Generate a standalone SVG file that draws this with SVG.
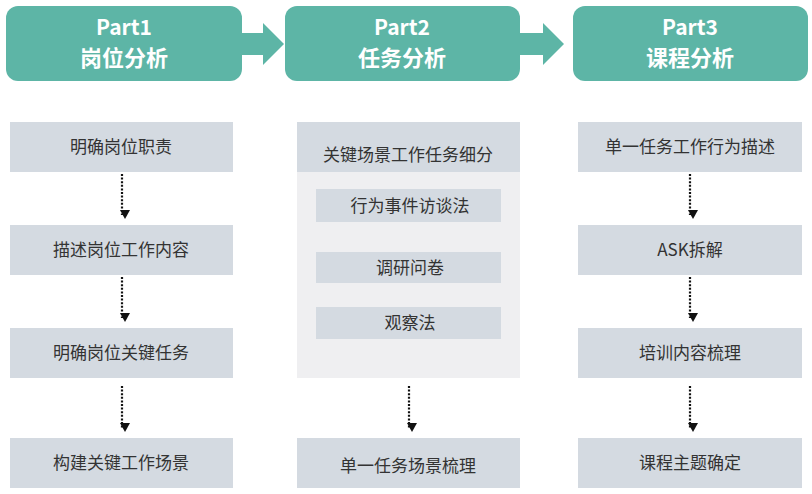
<svg xmlns="http://www.w3.org/2000/svg" width="812" height="494" viewBox="0 0 812 494">
<defs>
<style>
.hdr{fill:#5DB5A6}
.box{fill:#D4DAE1}
.cont{fill:#EFEFF1}
.ht{font-family:"Noto Sans CJK SC","Noto Sans",sans-serif;font-size:21px;font-weight:bold;fill:#ffffff;text-anchor:middle}
.hc{font-size:22px}
.bt{font-family:"Noto Sans CJK SC","Noto Sans",sans-serif;font-size:17px;fill:#333333;text-anchor:middle;dominant-baseline:central}
.dl{stroke:#111;stroke-width:2.2;stroke-dasharray:2 1.6;fill:none}
</style>
<marker id="ah" markerWidth="10" markerHeight="10" refX="5" refY="8" orient="auto" markerUnits="userSpaceOnUse" viewBox="0 0 10 10">
<path d="M0,0 L10,0 L5,9 Z" fill="#111" transform="rotate(-90 5 5)"/>
</marker>
</defs>
<rect width="812" height="494" fill="#ffffff"/>

<g id="part1">
<rect class="hdr" x="6" y="6" width="236" height="75" rx="12"/>
<text class="ht" x="124" y="35">Part1</text>
<text class="ht hc" x="124" y="66">岗位分析</text>
</g>
<g id="part2">
<rect class="hdr" x="285" y="6" width="235" height="75" rx="12"/>
<text class="ht" x="402" y="35">Part2</text>
<text class="ht hc" x="402" y="66">任务分析</text>
</g>
<g id="part3">
<rect class="hdr" x="573" y="6" width="235" height="75" rx="12"/>
<text class="ht" x="690" y="35">Part3</text>
<text class="ht hc" x="690" y="66">课程分析</text>
</g>

<g id="bigarrows">
<path class="hdr" d="M242,33 L263,33 L263,23 L284,44 L263,65 L263,55 L242,55 Z"/>
<path class="hdr" d="M520,33 L543,33 L543,23 L564,44 L543,65 L543,55 L520,55 Z"/>
</g>

<g id="c1n1"><rect class="box" x="10" y="122" width="223" height="50"/><text class="bt" x="121" y="145">明确岗位职责</text></g>
<g id="c1n2"><rect class="box" x="10" y="225" width="223" height="50"/><text class="bt" x="121" y="248">描述岗位工作内容</text></g>
<g id="c1n3"><rect class="box" x="10" y="328" width="223" height="50"/><text class="bt" x="121" y="351">明确岗位关键任务</text></g>
<g id="c1n4"><rect class="box" x="10" y="438" width="223" height="50"/><text class="bt" x="121" y="461">构建关键工作场景</text></g>

<g id="c2group">
<rect class="cont" x="297" y="122" width="223" height="256"/>
<rect class="box" x="297" y="122" width="223" height="50"/>
<text class="bt" x="408" y="153">关键场景工作任务细分</text>
</g>
<g id="c2s1"><rect class="box" x="316" y="189" width="185" height="33"/><text class="bt" x="410" y="204">行为事件访谈法</text></g>
<g id="c2s2"><rect class="box" x="316" y="252" width="185" height="31"/><text class="bt" x="410" y="266">调研问卷</text></g>
<g id="c2s3"><rect class="box" x="316" y="307" width="185" height="32"/><text class="bt" x="410" y="321">观察法</text></g>
<g id="c2n2"><rect class="box" x="297" y="438" width="223" height="50"/><text class="bt" x="408" y="464">单一任务场景梳理</text></g>

<g id="c3n1"><rect class="box" x="578" y="122" width="224" height="50"/><text class="bt" x="690" y="145">单一任务工作行为描述</text></g>
<g id="c3n2"><rect class="box" x="578" y="225" width="224" height="50"/><text class="bt" x="690" y="248">ASK拆解</text></g>
<g id="c3n3"><rect class="box" x="578" y="328" width="224" height="50"/><text class="bt" x="690" y="351">培训内容梳理</text></g>
<g id="c3n4"><rect class="box" x="578" y="438" width="224" height="50"/><text class="bt" x="690" y="461">课程主题确定</text></g>

<g id="connectors">
<line class="dl" x1="122" y1="174" x2="122" y2="215" marker-end="url(#ah)"/>
<line class="dl" x1="122" y1="277" x2="122" y2="318" marker-end="url(#ah)"/>
<line class="dl" x1="122" y1="386" x2="122" y2="428" marker-end="url(#ah)"/>
<line class="dl" x1="409" y1="386" x2="409" y2="428" marker-end="url(#ah)"/>
<line class="dl" x1="690" y1="174" x2="690" y2="215" marker-end="url(#ah)"/>
<line class="dl" x1="690" y1="277" x2="690" y2="318" marker-end="url(#ah)"/>
<line class="dl" x1="690" y1="386" x2="690" y2="428" marker-end="url(#ah)"/>
</g>
</svg>
